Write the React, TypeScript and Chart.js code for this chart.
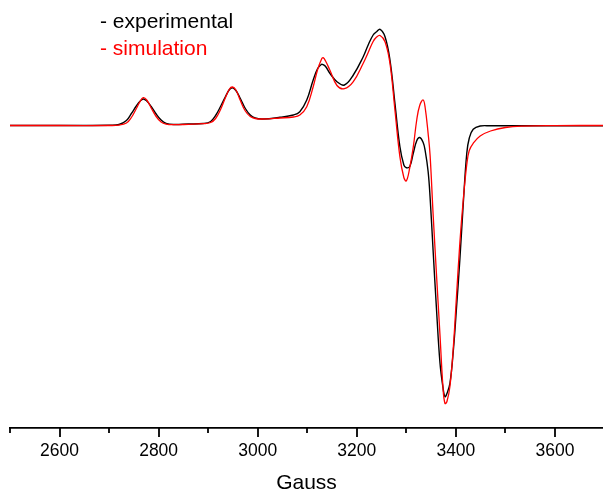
import React, { useEffect, useRef } from "react";
import { Chart, registerables } from "chart.js";

Chart.register(...registerables);

// Magnetic field (Gauss) at which both spectra are read
const fieldGauss = [
  2500, 2600, 2700, 2720, 2735, 2745, 2755, 2762, 2769, 2776, 2785, 2795, 2805, 2815, 2830,
  2860, 2890, 2905, 2915, 2925, 2935, 2943, 2949, 2956, 2965, 2975, 2985, 2995, 3010, 3045,
  3072, 3085, 3099, 3112, 3121, 3129, 3132, 3137, 3146, 3160, 3175, 3193, 3213, 3223, 3233,
  3240, 3247, 3257, 3267, 3277, 3287, 3295, 3300, 3307, 3314, 3321, 3327, 3334, 3338, 3344,
  3348, 3354, 3361, 3368, 3374, 3378, 3382, 3388, 3395, 3401, 3408, 3415, 3422, 3427, 3435,
  3449, 3470, 3500, 3535, 3600, 3700,
];

// Experimental EPR derivative signal (arb. units)
const experimental = [
  0, 0, 0.3, 1, 5, 12, 19.5, 24, 26.5, 24.5, 19, 11.5, 5.5, 2.2, 1,
  1.5, 2, 4, 10, 19, 29, 36, 37.8, 35, 27, 17, 10.5, 7.5, 6.5, 8.2,
  10.5, 13.8, 25.5, 45.5, 57, 61.2, 60.8, 59, 52, 43.8, 40.5, 50.5, 68.8, 80.5, 90.5,
  93.8, 96.2, 88.8, 65.5, 22.2, -21.2, -39.5, -42.2, -41, -27.8, -15.2, -12, -17, -25, -46,
  -72, -124.5, -184.5, -237.8, -262, -271.2, -268, -257.8, -224.5, -184.5, -134.5, -77.8, -27.8, -12.8, -3.8,
  -0.5, -0.3, -0.3, -0.2, -0.2, -0.2,
];

// Simulated EPR derivative signal (arb. units)
const simulation = [
  0, 0, 0, 0.4, 2.5, 8, 17, 23.5, 27.8, 25.5, 17.5, 9, 3.5, 1.4, 0.8,
  1.2, 1.8, 3, 7, 16, 28, 36.5, 38.5, 35.5, 25, 14.5, 9, 7, 6.5, 7.5,
  8.5, 10.5, 18.8, 38.8, 56, 66.5, 67.8, 64.5, 55, 40, 36.8, 43.8, 62.2, 73, 84,
  88.5, 90, 83.8, 62.2, 15.5, -31.2, -52, -55.5, -42, -21.7, 5.5, 20, 25.5, 18, -8,
  -30, -88, -150, -210, -262, -278, -276, -261, -221, -173, -117.8, -74, -39, -25, -17.8,
  -10.5, -5.5, -2, -0.6, -0.1, 0,
];

const seriesLabels = ["- experimental", "- simulation"];
const seriesColors = ["#000000", "#ff0000"];
const majorTicks = [2600, 2800, 3000, 3200, 3400, 3600];
const minorTicks = [2500, 2700, 2900, 3100, 3300, 3500, 3700];
const xTitle = "Gauss";
const xMin = 2500;
const xMax = 3697;
const yMin = -302.5;
const yMax = 125.5;

const FONT = '"Liberation Sans", Arial, Helvetica, sans-serif';

const decorPlugin = {
  id: "decor",
  afterDraw(chart: any) {
    const { ctx, chartArea } = chart;
    const x = chart.scales.x;
    const y0 = chartArea.bottom;
    ctx.save();
    ctx.strokeStyle = "#000000";
    ctx.lineWidth = 1.8;
    const drawTick = (v: number, len: number) => {
      if (v < xMin || v > xMax) return;
      const px = Math.round(x.getPixelForValue(v));
      ctx.beginPath();
      ctx.moveTo(px, y0);
      ctx.lineTo(px, y0 + len);
      ctx.stroke();
    };
    majorTicks.forEach((v) => drawTick(v, 9));
    minorTicks.forEach((v) => drawTick(v, 5));

    ctx.font = `21px ${FONT}`;
    ctx.textBaseline = "alphabetic";
    ctx.textAlign = "left";
    seriesLabels.forEach((label, i) => {
      ctx.fillStyle = seriesColors[i];
      ctx.fillText(label, 100, 28 + i * 26.7);
    });
    ctx.restore();
  },
};

export default function App() {
  const canvasRef = useRef<HTMLCanvasElement | null>(null);

  useEffect(() => {
    const canvas = canvasRef.current;
    if (!canvas) return;
    const mk = (vals: number[]) => fieldGauss.map((g, i) => ({ x: g, y: vals[i] }));
    const chart = new Chart(canvas, {
      type: "line",
      data: {
        datasets: [
          {
            label: seriesLabels[0],
            data: mk(experimental),
            borderColor: seriesColors[0],
            borderWidth: 1.4,
            pointRadius: 0,
            tension: 0.4,
            fill: false,
            order: 2,
          },
          {
            label: seriesLabels[1],
            data: mk(simulation),
            borderColor: seriesColors[1],
            borderWidth: 1.3,
            pointRadius: 0,
            tension: 0.4,
            fill: false,
            order: 1,
          },
        ],
      },
      options: {
        animation: false,
        responsive: false,
        devicePixelRatio: 1,
        layout: { padding: { left: 10, right: 0, top: 0, bottom: 0 } },
        plugins: {
          legend: { display: false },
          tooltip: { enabled: false },
        },
        scales: {
          x: {
            type: "linear",
            min: xMin,
            max: xMax,
            afterBuildTicks: (axis: any) => {
              axis.ticks = majorTicks.map((v) => ({ value: v }));
            },
            afterFit: (axis: any) => {
              axis.height = 64;
            },
            grid: { display: true, drawOnChartArea: false, drawTicks: false },
            border: { display: true, color: "#000000", width: 1.8 },
            ticks: {
              autoSkip: false,
              maxRotation: 0,
              padding: 13,
              color: "#000000",
              font: { family: FONT, size: 17.5 },
              callback: (value: any) => String(value),
            },
            title: {
              display: true,
              text: xTitle,
              color: "#000000",
              font: { family: FONT, size: 21, lineHeight: "18px" },
              padding: { top: 0, bottom: 0 },
            },
          },
          y: {
            type: "linear",
            display: false,
            min: yMin,
            max: yMax,
          },
        },
      },
      plugins: [decorPlugin],
    });
    return () => chart.destroy();
  }, []);

  return (
    <div style={{ position: "fixed", left: 0, top: 0, width: 603, height: 492, background: "#ffffff" }}>
      <canvas ref={canvasRef} width={603} height={492} style={{ display: "block" }} />
    </div>
  );
}
